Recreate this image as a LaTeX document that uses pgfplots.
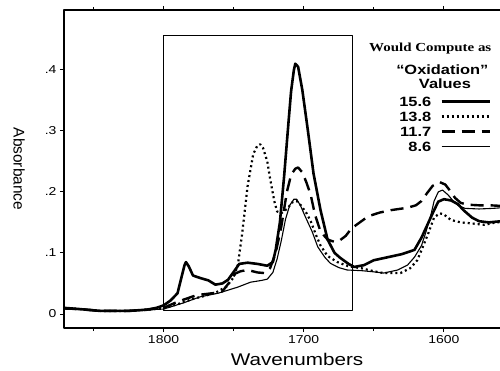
\documentclass[border=0pt]{standalone}
\usepackage{pgfplots}
\pgfplotsset{compat=1.18}
\usepackage{fontspec}
\setmainfont[FakeStretch=1.22]{Liberation Sans}
\newfontfamily\plainsans{Liberation Sans}
\newfontfamily\serifb[FakeStretch=1.22]{Liberation Serif}
\begin{document}
\begin{tikzpicture}
\begin{axis}[
  at={(0,0)}, anchor=south west,
  scale only axis, width=443bp, height=318bp,
  x dir=reverse, xmin=1555, xmax=1871,
  ymin=-0.023, ymax=0.498,
  xtick={1600,1700,1800}, xticklabels={1600,1700,1800},
  minor xtick={1650,1750,1850},
  ytick={0,0.1,0.2,0.3,0.4}, yticklabels={0,.1,.2,.3,.4},
  /pgf/number format/assume math mode=true,
  tick align=outside, major tick length=4bp, minor tick length=3bp,
  axis line style={line width=1.6bp},
  tick style={line width=0.9bp, black},
  ticklabel style={font=\fontsize{11.5}{12}\selectfont},
  xlabel={Wavenumbers},
  xlabel style={font=\fontsize{17}{18}\selectfont, at={(axis description cs:0.526,0)}, anchor=north, inner sep=0pt, yshift=-25bp},
  ylabel={Absorbance},
  ylabel style={font=\plainsans\fontsize{15.5}{16}\selectfont, rotate=180, at={(axis description cs:-0.088,0.5)}, anchor=north, inner sep=0pt},
  legend cell align=right,
  legend plot pos=right,
  legend image code/.code={\draw[#1] (0bp,0bp) -- (48bp,0bp);},
  legend style={at={(rel axis cs:0.9707,0.7343)}, anchor=north east, draw=none, fill=none,
     font=\bfseries\fontsize{13.5}{14}\selectfont, row sep=5.5bp, column sep=9bp,
     nodes={inner sep=0pt, text height=9.5bp, text depth=0bp}},
  line join=round,
]
% 15.6 thick solid
\addplot[black, line width=2.6bp] coordinates {
(1871,0.010) (1860,0.008) (1845,0.005) (1825,0.005) (1812,0.007) (1805,0.010)
(1800,0.014) (1795,0.022) (1790,0.034) (1787,0.062) (1785,0.080) (1784,0.085)
(1782,0.078) (1779,0.063) (1774,0.059) (1768,0.055) (1763,0.048) (1758,0.050)
(1754,0.056) (1749,0.072) (1746,0.082) (1740,0.084) (1733,0.082) (1726,0.079)
(1722,0.085) (1720,0.105) (1717,0.150) (1714,0.225) (1711,0.310) (1709,0.365)
(1707,0.400) (1706,0.410) (1704,0.405) (1701,0.367) (1697,0.300) (1693,0.230)
(1688,0.170) (1683,0.122) (1678,0.100) (1674,0.092) (1668,0.082) (1664,0.077)
(1657,0.080) (1650,0.088) (1640,0.093) (1630,0.098) (1621,0.105) (1616,0.125)
(1611,0.150) (1607,0.170) (1604,0.184) (1600,0.188) (1595,0.186) (1590,0.180)
(1586,0.170) (1580,0.158) (1575,0.152) (1568,0.150) (1559,0.152) (1555,0.153)
};
\addlegendentry{15.6}
% 13.8 dotted
\addplot[black, line width=2.2bp, dash pattern=on 2bp off 3bp] coordinates {
(1871,0.009) (1860,0.008) (1845,0.005) (1825,0.005) (1812,0.007) (1800,0.009)
(1790,0.016) (1780,0.024) (1770,0.030) (1762,0.036) (1755,0.045) (1750,0.060)
(1747,0.080) (1744,0.130) (1740,0.210) (1736,0.262) (1733,0.276) (1731,0.278)
(1729,0.272) (1726,0.250) (1724,0.222) (1721,0.185) (1719,0.168) (1716,0.165)
(1712,0.172) (1708,0.183) (1705,0.185) (1702,0.178) (1698,0.165) (1695,0.152)
(1691,0.128) (1688,0.112) (1683,0.095) (1676,0.085) (1668,0.078) (1659,0.075)
(1650,0.070) (1643,0.067) (1631,0.067) (1624,0.075) (1619,0.088) (1615,0.110)
(1611,0.133) (1607,0.158) (1603,0.165) (1600,0.163) (1595,0.154) (1588,0.150)
(1583,0.149) (1571,0.146) (1565,0.149) (1559,0.151) (1555,0.152)
};
\addlegendentry{13.8}
% 11.7 dashed
\addplot[black, line width=2.4bp, dash pattern=on 13bp off 7bp] coordinates {
(1871,0.009) (1860,0.008) (1845,0.005) (1825,0.005) (1812,0.007) (1800,0.010)
(1790,0.020) (1780,0.028) (1776,0.031) (1765,0.034) (1758,0.037) (1752,0.055)
(1749,0.066) (1745,0.070) (1740,0.072) (1733,0.068) (1728,0.067) (1724,0.075)
(1720,0.100) (1716,0.143) (1712,0.200) (1709,0.228) (1706,0.238) (1704,0.240)
(1701,0.232) (1698,0.215) (1695,0.195) (1692,0.163) (1688,0.135) (1683,0.122)
(1678,0.118) (1674,0.121) (1670,0.128) (1666,0.140) (1660,0.150) (1654,0.160)
(1646,0.166) (1638,0.170) (1626,0.174) (1620,0.178) (1616,0.185) (1612,0.198)
(1608,0.210) (1603,0.216) (1599,0.212) (1596,0.203) (1592,0.190) (1588,0.182)
(1583,0.179) (1575,0.178) (1567,0.178) (1559,0.177) (1555,0.177)
};
\addlegendentry{11.7}
% 8.6 thin solid
\addplot[black, line width=1.1bp] coordinates {
(1871,0.009) (1860,0.008) (1845,0.005) (1825,0.005) (1812,0.007) (1800,0.008)
(1786,0.018) (1774,0.028) (1761,0.034) (1747,0.044) (1738,0.052) (1730,0.055)
(1726,0.057) (1722,0.068) (1719,0.090) (1716,0.120) (1713,0.155) (1710,0.178)
(1707,0.188) (1705,0.188) (1702,0.176) (1699,0.160) (1694,0.135) (1690,0.110)
(1685,0.093) (1681,0.083) (1675,0.076) (1669,0.072) (1659,0.071) (1650,0.069)
(1643,0.067) (1633,0.072) (1626,0.080) (1621,0.093) (1616,0.112) (1613,0.133)
(1609,0.165) (1607,0.185) (1604,0.200) (1601,0.203) (1597,0.195) (1593,0.184)
(1590,0.178) (1585,0.173) (1575,0.172) (1565,0.173) (1559,0.174) (1555,0.174)
};
\addlegendentry{8.6}
\draw[line width=0.9bp] (axis cs:1800,0.006) rectangle (axis cs:1665,0.456);
\node[anchor=base west, inner sep=0pt, font=\serifb\bfseries\fontsize{12.3}{13}\selectfont] at (rel axis cs:0.6885,0.868) {Would Compute as};
\node[anchor=base, inner sep=0pt, font=\bfseries\fontsize{13.5}{14}\selectfont] at (rel axis cs:0.854,0.7956) {“Oxidation”};
\node[anchor=base, inner sep=0pt, font=\bfseries\fontsize{13.5}{14}\selectfont] at (rel axis cs:0.86,0.7547) {Values};
\end{axis}
\pgfresetboundingbox
\useasboundingbox (-64bp,-43bp) rectangle (436bp,328bp);
\end{tikzpicture}
\end{document}
